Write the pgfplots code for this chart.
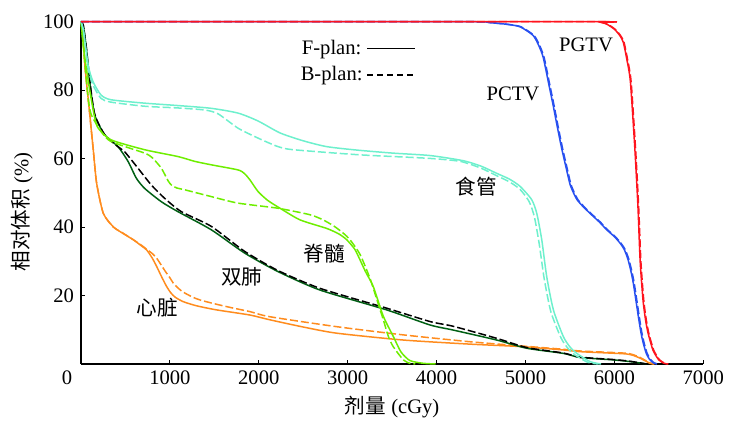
\documentclass[border=0pt]{standalone}
\usepackage{pgfplots}
\pgfplotsset{compat=1.18}
\usepackage{fontspec}
\setmainfont{Liberation Serif}
\newfontfamily\cjk{Noto Sans CJK SC}
\definecolor{cgtv}{RGB}{255,20,30}
\definecolor{cctv}{RGB}{40,80,240}
\definecolor{caqua}{RGB}{110,240,205}
\definecolor{cgreen}{RGB}{110,238,0}
\definecolor{clung}{RGB}{0,95,20}
\definecolor{corange}{RGB}{255,140,30}
\begin{document}
\begin{tikzpicture}
\begin{axis}[
  scale only axis, width=311.15pt, height=171.15pt,
  xmin=0, xmax=7000, ymin=0, ymax=100,
  axis lines*=left, axis line style={line width=0.6pt},
  tick align=inside, major tick length=2pt,
  tick style={black, line width=0.5pt},
  xtick={1000,2000,3000,4000,5000,6000,7000},
  ytick={20,40,60,80,100},
  extra x ticks={0}, extra x tick style={tick style={draw=none}, tick label style={xshift=-7pt}},
  /pgf/number format/assume math mode=true,
  /pgf/number format/.cd, set thousands separator={}, /pgfplots/.cd,
  tick label style={font=\fontsize{10.3}{12}\selectfont},
  xlabel={\cjk 剂量\rmfamily\ (cGy)},
  xlabel style={at={(axis description cs:0.5,-0.1256)}, anchor=center, font=\fontsize{10.3}{12}\selectfont},
  ylabel={\cjk 相对体积\rmfamily\ (\%)},
  ylabel style={at={(axis description cs:-0.0949,0.444)}, anchor=center, font=\fontsize{10.3}{12}\selectfont},
  clip=false,
  every axis plot/.append style={line width=0.75pt},
  legend plot pos=right,
  legend style={draw=none, fill=none, at={(axis cs:2400,96.5)}, anchor=north west,
    font=\fontsize{10.3}{12}\selectfont, row sep=0.5pt, inner sep=1pt},
  legend image code/.code={\draw[#1] (3pt,0pt) -- (27pt,0pt);},
]
\addlegendimage{black, line width=0.7pt}
\addlegendentry{F-plan:}
\addlegendimage{black, line width=0.7pt, dash pattern=on 3pt off 2pt}
\addlegendentry{B-plan:}
% heart
\addplot[corange, no markers, smooth, tension=0.4] coordinates {(0,100) (20,96.7) (45,87) (82,77.2) (138,62.6) (176,52.8) (251,44) (363,40.1) (450,38.5) (588,36.3) (680,34.5) (739,33.3) (800,31) (851,28.5) (910,25.3) (964,22.6) (1010,20.8) (1060,19.5) (1151,18.2) (1300,17) (1526,15.8) (1901,14.3) (2126,12.9) (2500,10.8) (2876,9) (3626,7) (4376,5.8) (4939,5.1) (5426,4.1) (5614,3.6) (6100,3) (6200,2.6) (6289,1.7) (6401,0.2) (6450,0)};
\addplot[corange, no markers, smooth, tension=0.4, dash pattern=on 4pt off 1.5pt] coordinates {(0,100) (20,96.7) (45,87) (82,77.2) (138,62.6) (176,52.8) (251,44) (363,40) (450,38.6) (588,36.3) (680,34.7) (739,33.5) (800,32.3) (851,30.9) (900,29) (950,27) (1000,25.2) (1039,23.6) (1100,22) (1150,21) (1250,19.6) (1339,18.7) (1500,17.6) (1700,16.4) (1901,15.3) (2126,13.8) (2876,10.9) (3626,8.5) (4376,6.5) (4939,5.3) (5426,4.3) (5614,3.8) (6100,3.2) (6200,2.8) (6289,1.9) (6401,0.3) (6450,0)};
% lungs
\addplot[clung, no markers, smooth, tension=0.4] coordinates {(0,100) (25,99) (60,92.3) (98,82.6) (154,72.8) (266,67) (416,63.5) (529,59.2) (622,54.3) (716,51.3) (904,47.4) (1091,44.5) (1466,39.2) (1841,32.4) (2216,27) (2689,21.6) (3439,15.8) (3926,11.4) (4189,9.9) (4676,7) (5014,4.6) (5426,3.1) (5614,1.9) (5989,1.2) (6176,0.7) (6364,0)};
\addplot[black, no markers, smooth, tension=0.4, dash pattern=on 4pt off 1.5pt] coordinates {(0,100) (25,99) (60,92.5) (98,83) (154,73) (266,67) (400,63.8) (491,62) (641,57.2) (791,52.3) (941,48.4) (1129,44.5) (1466,40.2) (1841,32.9) (2216,27.3) (2689,22.1) (3439,16.3) (3926,12.4) (4189,11) (4676,7.5) (5014,4.8) (5426,3.2) (5614,2) (5989,1.3) (6176,0.8) (6364,0)};
% spinal cord
\addplot[cgreen, no markers, smooth, tension=0.4] coordinates {(0,100) (40,90) (98,80) (150,72.5) (191,69) (337,65.5) (716,62.6) (1091,60.6) (1279,59.2) (1463,58.2) (1766,56.7) (1840,55.6) (1900,53.8) (1991,50.4) (2100,47.8) (2239,45.5) (2464,42.1) (2764,39.6) (2900,38) (2989,36.3) (3080,33.5) (3139,30.4) (3200,27) (3288,22.6) (3400,14) (3514,8) (3600,3.5) (3700,1) (3850,0.2) (3990,0)};
\addplot[cgreen, no markers, smooth, tension=0.4, dash pattern=on 4pt off 1.5pt] coordinates {(0,100) (40,89) (79,78) (116,72.8) (228,67.9) (337,65) (716,61.6) (800,60.3) (860,58.6) (904,57.2) (940,55.5) (980,53.5) (1016,52.3) (1080,51.4) (1166,50.9) (1466,48.9) (1766,47) (2216,45.5) (2576,43.6) (2723,42.1) (2850,40.2) (2951,38.2) (3026,36.3) (3139,32) (3251,25) (3326,19) (3401,12.9) (3458,8) (3514,5) (3626,1.2) (3700,0.2) (3760,0)};
% esophagus
\addplot[caqua, no markers, smooth, tension=0.4] coordinates {(0,100) (30,97) (79,87.4) (135,82.5) (225,78.6) (337,77.2) (716,76.2) (1091,75.5) (1463,74.7) (1766,73.3) (1991,71) (2239,67.5) (2500,65.2) (2764,63.5) (3100,62.5) (3510,61.6) (3926,60.9) (4298,59.4) (4500,57.8) (4676,55.7) (4820,54) (4939,51.9) (5070,48) (5127,44) (5183,36.3) (5239,25.5) (5314,15.8) (5426,8) (5500,5) (5577,3.1) (5726,0.7) (5850,0)};
\addplot[caqua, no markers, smooth, tension=0.4, dash pattern=on 4pt off 1.5pt] coordinates {(0,100) (30,97) (79,86.5) (135,81.5) (225,77.6) (337,76.5) (716,75.3) (1091,74.8) (1391,74.2) (1541,73.1) (1766,68.9) (1991,66) (2216,63.5) (2389,62.6) (3139,61.1) (3900,60.1) (4264,59.2) (4500,57.2) (4676,55) (4820,53.2) (4939,51) (5040,47.5) (5100,43) (5155,35) (5210,25) (5285,15.3) (5400,7.6) (5480,4.5) (5560,2.6) (5700,0.5) (5820,0)};
% PCTV
\addplot[cctv, no markers, smooth, tension=0.4] coordinates {(0,100) (4300,100) (4600,99.7) (4800,99.2) (4940,98.5) (5085,96) (5150,93) (5200,89.5) (5260,82) (5310,75.7) (5360,69) (5407,63) (5460,57) (5501,52.5) (5540,50) (5580,48) (5640,46.2) (5726,44) (5830,41.5) (5914,39.2) (6000,37.2) (6064,35.3) (6110,33.5) (6150,30.8) (6180,27.8) (6213,23.6) (6270,13.8) (6300,9) (6326,6) (6360,3) (6400,1.2) (6440,0.3) (6480,0)};
\addplot[cctv, no markers, smooth, tension=0.4, dash pattern=on 4pt off 1.5pt] coordinates {(0,100) (4310,100) (4610,99.7) (4810,99.2) (4950,98.5) (5095,96) (5160,93) (5210,89.5) (5270,82) (5320,75.7) (5370,69) (5417,63) (5470,57) (5511,52.5) (5550,50) (5590,48) (5650,46.2) (5736,44) (5840,41.5) (5924,39.2) (6010,37.2) (6074,35.3) (6120,33.5) (6160,30.8) (6190,27.8) (6223,23.6) (6280,13.8) (6310,9) (6336,6) (6370,3) (6410,1.2) (6450,0.3) (6490,0)};
% PGTV
\addplot[cgtv, no markers, smooth, tension=0.4] coordinates {(0,100) (5700,100) (5850,99.8) (5920,99.2) (6000,97.8) (6060,96) (6100,94) (6140,89) (6180,82.5) (6230,63) (6265,46) (6290,30) (6322,18.7) (6350,13) (6379,9) (6435,4) (6500,1.2) (6560,0.2) (6600,0)};
\addplot[cgtv, no markers, smooth, tension=0.4, dash pattern=on 4pt off 1.5pt] coordinates {(0,100) (5708,100) (5858,99.8) (5928,99.2) (6008,97.8) (6068,96) (6108,94) (6148,89) (6188,82.5) (6238,63) (6273,46) (6298,30) (6330,18.7) (6358,13) (6387,9) (6443,4) (6508,1.2) (6568,0.2) (6608,0)};
% labels
\node[font=\fontsize{10.3}{12}\selectfont] at (axis cs:5681,93.3) {PGTV};
\node[font=\fontsize{10.3}{12}\selectfont] at (axis cs:4860,78.9) {PCTV};
\node[font=\cjk\fontsize{10.3}{12}\selectfont] at (axis cs:4444,51.7) {食管};
\node[font=\cjk\fontsize{10.3}{12}\selectfont] at (axis cs:2734,32.2) {脊髓};
\node[font=\cjk\fontsize{10.3}{12}\selectfont] at (axis cs:1811,25.4) {双肺};
\node[font=\cjk\fontsize{10.3}{12}\selectfont] at (axis cs:855,16.4) {心脏};
\coordinate (O) at (axis cs:0,0);
\end{axis}
\path (O) ++(-40.5pt,-27.5pt) rectangle ++(368pt,209.5pt);
\end{tikzpicture}
\end{document}
